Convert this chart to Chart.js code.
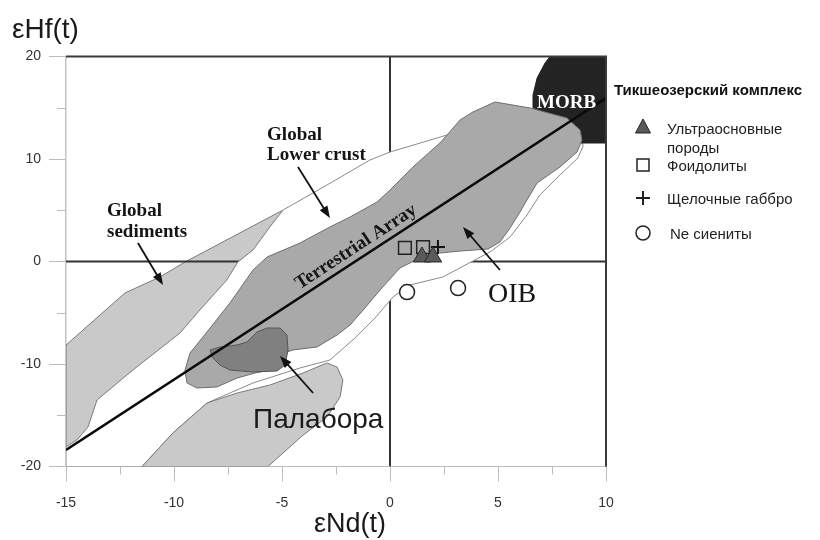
<!DOCTYPE html>
<html><head><meta charset="utf-8">
<script src="https://cdn.jsdelivr.net/npm/chart.js@4.4.1/dist/chart.umd.min.js"></script>
<style>html,body{margin:0;padding:0;background:#fff;}#wrap{width:820px;height:540px;position:relative;}</style>
</head><body><div id="wrap"><canvas id="c" width="820" height="540"></canvas></div>
<script>
// ---- data (εNd(t), εHf(t)) ----
const xTickLabels = [-15, -10, -5, 0, 5, 10];
const yTickLabels = [-20, -10, 0, 10, 20];

const globalSediments = [[-15,-8.15],[-12.27,-3.07],[-10.65,-1.51],[-9.49,-0.05],[-4.95,5.02],[-5.56,3.37],[-6.34,1.12],[-7.04,-0.05],[-7.55,-1.8],[-8.8,-4.73],[-9.72,-6.98],[-11.9,-10.59],[-13.56,-13.51],[-13.98,-16.15],[-14.49,-17.41],[-15,-18.1]];

const lowerCrust = [[-4.95,5.02],[-2.92,7.46],[-0.93,9.9],[0,10.68],[2.64,12.34],[4.86,15.37],[8.7,13.02],[8.94,11.27],[8.7,10.1],[7.87,8.44],[6.94,6.49],[6.34,4.54],[5.56,2.39],[4.63,0.93],[2.45,-1.51],[0.93,-2.29],[0.14,-3.46],[-0.69,-5.51],[-1.62,-7.46],[-2.78,-9.61],[-4.17,-10.39],[-6.34,-11.85],[-8.47,-13.8],[-10.05,-16.73],[-11.48,-20],[-15,-20],[-15,-18.1],[-14.49,-17.41],[-13.98,-16.15],[-13.56,-13.51],[-11.9,-10.59],[-9.72,-6.98],[-8.8,-4.73],[-7.55,-1.8],[-7.04,-0.05],[-6.34,1.12],[-5.56,3.37]];

const lowerSediments = [[-11.48,-20],[-10.05,-16.73],[-8.47,-13.8],[-7.08,-12.83],[-5.56,-12.05],[-4.03,-10.88],[-2.92,-9.9],[-2.45,-10.29],[-2.18,-11.56],[-2.31,-13.22],[-2.92,-15.17],[-4.07,-17.02],[-5.65,-20]];

const morb = [[7.41,20],[10,20],[10,11.56],[8.8,11.56],[8.56,13.02],[7.87,14.0],[6.62,14.98],[6.62,16.24],[6.81,17.9],[7.18,19.37]];

const oibField = [[8.89,11.85],[8.66,10.68],[7.87,9.22],[6.81,7.66],[6.34,6.0],[6.02,4.83],[5.56,3.27],[5.09,1.9],[4.54,1.22],[3.24,1.02],[2.31,0.83],[1.39,0.34],[0.46,-0.63],[-0.46,-2.78],[-1.16,-4.54],[-1.85,-6.2],[-2.45,-7.17],[-3.38,-8.34],[-4.49,-8.63],[-4.77,-8.83],[-5.09,-10.39],[-6.25,-10.88],[-7.08,-11.37],[-8.01,-12.24],[-8.94,-12.34],[-9.4,-11.85],[-9.49,-10.59],[-9.26,-8.93],[-8.66,-7.37],[-7.41,-4.05],[-6.34,-0.83],[-5.69,0.44],[-4.17,1.8],[-2.78,3.37],[-1.85,4.34],[-0.6,5.8],[0,6.98],[1.06,9.22],[2.31,11.56],[2.64,12.34],[3.24,13.8],[3.84,14.59],[4.86,15.56],[6.48,14.98],[8.19,14.0],[8.8,12.83]];

const palabora = [[-8.33,-8.63],[-7.87,-8.34],[-7.08,-8.15],[-6.62,-7.85],[-6.16,-6.88],[-5.69,-6.49],[-5.09,-6.49],[-4.77,-7.17],[-4.72,-8.63],[-4.86,-10.1],[-5.23,-10.68],[-6.34,-10.78],[-7.41,-10.59],[-7.87,-10.1],[-8.24,-9.32]];

const terrestrialArray = [[-15,-18.39],[10,15.95]];
const zeroHf = [[-15,0],[10,0]];
const zeroNd = [[0,-20],[0,20]];

const ultrabasic = [[1.48,0.44],[1.99,0.44]];
const foidolites = [[0.69,1.32],[1.53,1.41]];
const alkaliGabbro = [[2.22,1.41]];
const neSyenites = [[0.79,-2.98],[3.15,-2.59]];

// ---- helpers ----
const pts = a => a.map(p => ({x:p[0], y:p[1]}));
const closed = a => pts(a.concat([a[0]]));
const poly = (arr, bg, bc, order) => ({data: closed(arr), backgroundColor: bg, borderColor: bc, borderWidth: 1,
  fill: 'shape', pointRadius: 0, tension: 0, order: order});
const SANS = "'Liberation Sans', Arial, sans-serif";
const SERIF = "'Liberation Serif', 'Times New Roman', serif";

const annot = {
  id: 'annot',
  afterDatasetsDraw(chart) {
    const {ctx} = chart; const xs = chart.scales.x, ys = chart.scales.y;
    const X = v => xs.getPixelForValue(v), Y = v => ys.getPixelForValue(v);
    ctx.save();
    // frame top/right
    ctx.strokeStyle = '#3a3a3a'; ctx.lineWidth = 2;
    ctx.beginPath(); ctx.moveTo(X(-15), Y(20)); ctx.lineTo(X(10), Y(20)); ctx.lineTo(X(10), Y(-20)); ctx.stroke();
    // minor ticks
    ctx.strokeStyle = '#bdbdbd'; ctx.lineWidth = 1;
    [-12.5,-7.5,-2.5,2.5,7.5].forEach(v => { ctx.beginPath(); ctx.moveTo(Math.round(X(v))+0.5, Y(-20)); ctx.lineTo(Math.round(X(v))+0.5, Y(-20)+8); ctx.stroke(); });
    [-15,-5,5,15].forEach(v => { ctx.beginPath(); ctx.moveTo(X(-15), Math.round(Y(v))+0.5); ctx.lineTo(X(-15)-9, Math.round(Y(v))+0.5); ctx.stroke(); });

    const text = (s, x, y, font, color, align, rot) => {
      ctx.save(); ctx.font = font; ctx.fillStyle = color; ctx.textAlign = align || 'left'; ctx.textBaseline = 'alphabetic';
      ctx.translate(x, y); if (rot) ctx.rotate(rot); ctx.fillText(s, 0, 0); ctx.restore();
    };
    const arrow = (x1, y1, x2, y2) => {
      const a = X(x1), b = Y(y1), c = X(x2), d = Y(y2);
      const ang = Math.atan2(d - b, c - a), L = 12, W = 4.5;
      ctx.strokeStyle = '#111'; ctx.fillStyle = '#111'; ctx.lineWidth = 1.8;
      ctx.beginPath(); ctx.moveTo(a, b); ctx.lineTo(c - Math.cos(ang) * L * 0.8, d - Math.sin(ang) * L * 0.8); ctx.stroke();
      ctx.beginPath(); ctx.moveTo(c, d);
      ctx.lineTo(c - Math.cos(ang) * L - Math.sin(ang) * W, d - Math.sin(ang) * L + Math.cos(ang) * W);
      ctx.lineTo(c - Math.cos(ang) * L + Math.sin(ang) * W, d - Math.sin(ang) * L - Math.cos(ang) * W);
      ctx.closePath(); ctx.fill();
    };
    const bSerif = 'bold 19px ' + SERIF;
    text('Global', X(-13.1), Y(4.44), bSerif, '#151515');
    text('sediments', X(-13.1), Y(2.39), bSerif, '#151515');
    text('Global', X(-5.69), Y(11.85), bSerif, '#151515');
    text('Lower crust', X(-5.69), Y(9.9), bSerif, '#151515');
    text('MORB', X(6.81), Y(14.98), bSerif, '#ffffff');
    const ang = Math.atan2(Y(15.95) - Y(-18.39), X(10) - X(-15));
    text('Terrestrial Array', X(-1.45), Y(1.51) + 5, 'bold 19px ' + SERIF, '#151515', 'center', ang);
    text('OIB', X(4.54), Y(-3.95), '28px ' + SERIF, '#151515');
    text('Палабора', X(-6.34), Y(-16.24), '28px ' + SANS, '#1a1a1a');
    arrow(-11.67, 1.8, -10.51, -2.29);
    arrow(-4.26, 9.22, -2.78, 4.24);
    arrow(5.09, -0.83, 3.38, 3.37);
    arrow(-3.56, -12.83, -5.09, -9.22);

    // axis titles
    text('εHf(t)', 12, 38, '28px ' + SANS, '#1a1a1a');
    text('εNd(t)', 314, 532, '27px ' + SANS, '#1a1a1a');

    // legend
    text('Тикшеозерский комплекс', 614, 95, 'bold 15px ' + SANS, '#111');
    const lx = 643, tx = 667, lf = '15px ' + SANS;
    // triangle
    ctx.fillStyle = '#5a5a5a'; ctx.strokeStyle = '#222'; ctx.lineWidth = 1;
    ctx.beginPath(); ctx.moveTo(lx, 119); ctx.lineTo(lx + 7.5, 133); ctx.lineTo(lx - 7.5, 133); ctx.closePath(); ctx.fill(); ctx.stroke();
    text('Ультраосновные', tx, 134, lf, '#222');
    text('породы', tx, 153, lf, '#222');
    // square
    ctx.strokeStyle = '#222'; ctx.lineWidth = 1.5; ctx.strokeRect(lx - 6, 159, 12, 12);
    text('Фоидолиты', tx, 171, lf, '#222');
    // plus
    ctx.lineWidth = 2; ctx.beginPath(); ctx.moveTo(lx - 7, 198); ctx.lineTo(lx + 7, 198); ctx.moveTo(lx, 191); ctx.lineTo(lx, 205); ctx.stroke();
    text('Щелочные габбро', tx, 204, lf, '#222');
    // circle
    ctx.lineWidth = 1.5; ctx.beginPath(); ctx.arc(lx, 233, 7, 0, Math.PI * 2); ctx.stroke();
    text('Ne сиениты', 670, 239, lf, '#222');
    ctx.restore();
  }
};

new Chart(document.getElementById('c').getContext('2d'), {
  type: 'line',
  data: { datasets: [
    poly(globalSediments, '#c9c9c9', '#7a7a7a', 100),
    {data: pts(zeroHf), borderColor: '#333', borderWidth: 2, pointRadius: 0, fill: false, order: 95},
    {data: pts(zeroNd), borderColor: '#333', borderWidth: 2, pointRadius: 0, fill: false, order: 94},
    poly(lowerCrust, '#ffffff', '#8a8a8a', 90),
    poly(lowerSediments, '#c9c9c9', '#7a7a7a', 85),
    poly(morb, '#232323', '#232323', 80),
    poly(oibField, '#a9a9a9', '#6e6e6e', 70),
    poly(palabora, '#808080', '#555555', 60),
    {data: pts(terrestrialArray), borderColor: '#0a0a0a', borderWidth: 2.6, pointRadius: 0, fill: false, order: 50},
    {data: pts(foidolites), showLine: false, pointStyle: 'rect', pointRadius: 9, pointBackgroundColor: 'rgba(0,0,0,0)', pointBorderColor: '#222', pointBorderWidth: 1.5, order: 40},
    {data: pts(alkaliGabbro), showLine: false, pointStyle: 'cross', pointRadius: 7, pointBorderColor: '#111', pointBorderWidth: 2, order: 35},
    {data: pts(ultrabasic), showLine: false, pointStyle: 'triangle', pointRadius: 10, pointBackgroundColor: '#5a5a5a', pointBorderColor: '#2a2a2a', pointBorderWidth: 1, order: 30},
    {data: pts(neSyenites), showLine: false, pointStyle: 'circle', pointRadius: 7.5, pointBackgroundColor: '#ffffff', pointBorderColor: '#222', pointBorderWidth: 1.5, order: 25}
  ]},
  options: {
    responsive: false, animation: false, events: [],
    layout: { padding: {top: 56.5, right: 214, bottom: 0, left: 0} },
    plugins: { legend: {display: false}, tooltip: {enabled: false}, title: {display: false} },
    scales: {
      x: { type: 'linear', min: -15, max: 10,
        afterFit: s => { s.height = 73.5; },
        ticks: { stepSize: 5, autoSkip: false, maxRotation: 0, padding: 13, color: '#333', font: {family: SANS, size: 14},
          callback: v => xTickLabels.includes(v) ? String(v) : '' },
        grid: { drawOnChartArea: false, drawTicks: true, tickLength: 15, tickColor: '#bdbdbd', tickWidth: 1 },
        border: { color: '#bdbdbd', width: 1 } },
      y: { type: 'linear', min: -20, max: 20,
        afterFit: s => { s.width = 66; },
        ticks: { stepSize: 10, autoSkip: false, padding: 8, color: '#333', font: {family: SANS, size: 14},
          callback: v => yTickLabels.includes(v) ? String(v) : '' },
        grid: { drawOnChartArea: false, drawTicks: true, tickLength: 17, tickColor: '#bdbdbd', tickWidth: 1 },
        border: { color: '#c4c4c4', width: 1.5 } }
    }
  },
  plugins: [annot]
});
</script></body></html>
